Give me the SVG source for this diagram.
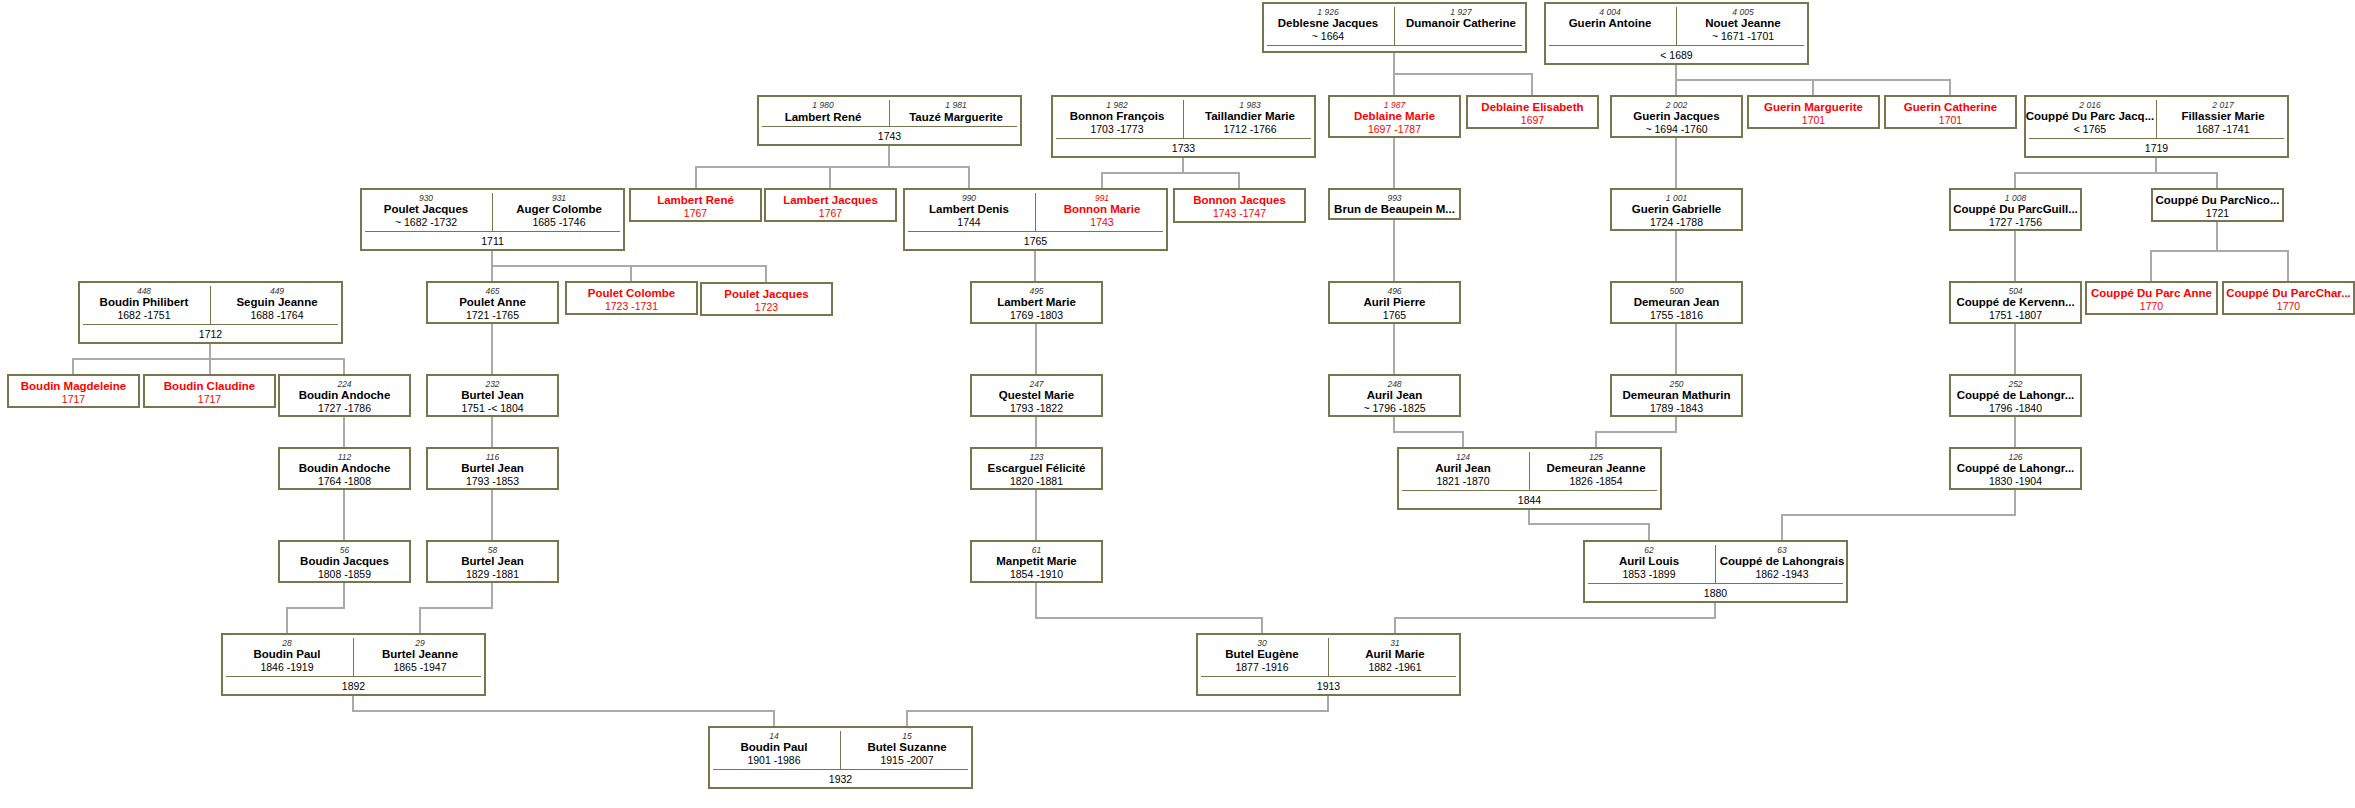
<svg xmlns="http://www.w3.org/2000/svg" width="2355" height="808" viewBox="0 0 2355 808">
<style>
.b{fill:#fff;stroke:#77774f;stroke-width:2}
.i{stroke:#77774f;stroke-width:1}
.c{fill:none;stroke:#aaaaaa;stroke-width:2;stroke-linejoin:miter}
text{font-family:"Liberation Sans",Arial,sans-serif;text-anchor:middle;fill:#000}
.n{font-size:8.5px;font-style:italic;fill:#333}
.m{font-size:11.5px;font-weight:bold}
.d{font-size:10.5px}
.r{fill:#ff0000}
</style>
<rect width="2355" height="808" fill="#fff"/>
<g id="connectors">
<path class="c" d="M73 374V359H344V374M210 343V374"/>
<path class="c" d="M344 417V447M344 490V540"/>
<path class="c" d="M344 583V608H287V633"/>
<path class="c" d="M492 324V374M492 417V447M492 490V540"/>
<path class="c" d="M492 583V608H420V633"/>
<path class="c" d="M492 251V281M492 266H766V282M631 266V281"/>
<path class="c" d="M889 146V167M696 188V167H969V188M830 167V188"/>
<path class="c" d="M1183 158V173M1102 188V173H1239V188"/>
<path class="c" d="M1035 251V281M1036 324V374M1036 417V447M1036 490V540"/>
<path class="c" d="M1036 583V618H1262V633"/>
<path class="c" d="M1394 53V95M1394 74H1532V95"/>
<path class="c" d="M1394 138V188M1394 220V281M1394 324V374"/>
<path class="c" d="M1394 417V432H1463V447"/>
<path class="c" d="M1676 65V95M1676 80H1950V95M1813 80V95"/>
<path class="c" d="M1676 138V188M1676 231V281M1676 324V374"/>
<path class="c" d="M1676 417V432H1596V447"/>
<path class="c" d="M1529 510V524H1649V540"/>
<path class="c" d="M1715 603V618H1395V633"/>
<path class="c" d="M2156 158V173M2015 188V173H2217V188"/>
<path class="c" d="M2217 222V251M2151 281V251H2288V281"/>
<path class="c" d="M2015 231V281M2015 324V374M2015 417V447"/>
<path class="c" d="M2015 490V515H1782V540"/>
<path class="c" d="M353 696V711H774V726"/>
<path class="c" d="M1328 696V711H907V726"/>
</g>

<!-- Row 0 -->
<g id="n1926">
<rect class="b" x="1263" y="3" width="263" height="49"/>
<line class="i" x1="1394.5" y1="7" x2="1394.5" y2="45"/>
<line class="i" x1="1267" y1="45.5" x2="1522" y2="45.5"/>
<text class="n" x="1328" y="14.5">1 926</text>
<text class="m" x="1328" y="27">Deblesne Jacques</text>
<text class="d" x="1328" y="39.5">~ 1664</text>
<text class="n" x="1461" y="14.5">1 927</text>
<text class="m" x="1461" y="27">Dumanoir Catherine</text>
</g>
<g id="n4004">
<rect class="b" x="1545" y="3" width="263" height="61"/>
<line class="i" x1="1676.5" y1="7" x2="1676.5" y2="45"/>
<line class="i" x1="1549" y1="45.5" x2="1804" y2="45.5"/>
<text class="n" x="1610" y="14.5">4 004</text>
<text class="m" x="1610" y="27">Guerin Antoine</text>
<text class="n" x="1743" y="14.5">4 005</text>
<text class="m" x="1743" y="27">Nouet Jeanne</text>
<text class="d" x="1743" y="39.5">~ 1671 -1701</text>
<text class="d" x="1676.5" y="58.5">&lt; 1689</text>
</g>

<!-- Row 1 -->
<g id="n1980">
<rect class="b" x="758" y="96" width="263" height="49"/>
<line class="i" x1="889.5" y1="100" x2="889.5" y2="126"/>
<line class="i" x1="762" y1="126.5" x2="1017" y2="126.5"/>
<text class="n" x="823" y="108">1 980</text>
<text class="m" x="823" y="120.5">Lambert René</text>
<text class="n" x="956" y="108">1 981</text>
<text class="m" x="956" y="120.5">Tauzé Marguerite</text>
<text class="d" x="889.5" y="139.5">1743</text>
</g>
<g id="n1982">
<rect class="b" x="1052" y="96" width="263" height="61"/>
<line class="i" x1="1183.5" y1="100" x2="1183.5" y2="138"/>
<line class="i" x1="1056" y1="138.5" x2="1311" y2="138.5"/>
<text class="n" x="1117" y="107.5">1 982</text>
<text class="m" x="1117" y="120">Bonnon François</text>
<text class="d" x="1117" y="132.5">1703 -1773</text>
<text class="n" x="1250" y="107.5">1 983</text>
<text class="m" x="1250" y="120">Taillandier Marie</text>
<text class="d" x="1250" y="132.5">1712 -1766</text>
<text class="d" x="1183.5" y="151.5">1733</text>
</g>
<g id="n1987">
<rect class="b" x="1329" y="96" width="131" height="41"/>
<text class="n r" x="1394.5" y="107.5">1 987</text>
<text class="m r" x="1394.5" y="120">Deblaine Marie</text>
<text class="d r" x="1394.5" y="132.5">1697 -1787</text>
</g>
<g id="nDeblaineElisabeth">
<rect class="b" x="1467" y="96" width="131" height="32"/>
<text class="m r" x="1532.5" y="111">Deblaine Elisabeth</text>
<text class="d r" x="1532.5" y="123.5">1697</text>
</g>
<g id="n2002">
<rect class="b" x="1611" y="96" width="131" height="41"/>
<text class="n" x="1676.5" y="107.5">2 002</text>
<text class="m" x="1676.5" y="120">Guerin Jacques</text>
<text class="d" x="1676.5" y="132.5">~ 1694 -1760</text>
</g>
<g id="nGuerinMarguerite">
<rect class="b" x="1748" y="96" width="131" height="32"/>
<text class="m r" x="1813.5" y="111">Guerin Marguerite</text>
<text class="d r" x="1813.5" y="123.5">1701</text>
</g>
<g id="nGuerinCatherine">
<rect class="b" x="1885" y="96" width="131" height="32"/>
<text class="m r" x="1950.5" y="111">Guerin Catherine</text>
<text class="d r" x="1950.5" y="123.5">1701</text>
</g>
<g id="n2016">
<rect class="b" x="2025" y="96" width="263" height="61"/>
<line class="i" x1="2156.5" y1="100" x2="2156.5" y2="138"/>
<line class="i" x1="2029" y1="138.5" x2="2284" y2="138.5"/>
<text class="n" x="2090" y="107.5">2 016</text>
<text class="m" x="2090" y="120">Couppé Du Parc Jacq...</text>
<text class="d" x="2090" y="132.5">&lt; 1765</text>
<text class="n" x="2223" y="107.5">2 017</text>
<text class="m" x="2223" y="120">Fillassier Marie</text>
<text class="d" x="2223" y="132.5">1687 -1741</text>
<text class="d" x="2156.5" y="151.5">1719</text>
</g>

<!-- Row 2 -->
<g id="n930">
<rect class="b" x="361" y="189" width="263" height="61"/>
<line class="i" x1="492.5" y1="193" x2="492.5" y2="231"/>
<line class="i" x1="365" y1="231.5" x2="620" y2="231.5"/>
<text class="n" x="426" y="200.5">930</text>
<text class="m" x="426" y="213">Poulet Jacques</text>
<text class="d" x="426" y="225.5">~ 1682 -1732</text>
<text class="n" x="559" y="200.5">931</text>
<text class="m" x="559" y="213">Auger Colombe</text>
<text class="d" x="559" y="225.5">1685 -1746</text>
<text class="d" x="492.5" y="244.5">1711</text>
</g>
<g id="nLambertRene">
<rect class="b" x="630" y="189" width="131" height="32"/>
<text class="m r" x="695.5" y="204">Lambert René</text>
<text class="d r" x="695.5" y="216.5">1767</text>
</g>
<g id="nLambertJacques">
<rect class="b" x="765" y="189" width="131" height="32"/>
<text class="m r" x="830.5" y="204">Lambert Jacques</text>
<text class="d r" x="830.5" y="216.5">1767</text>
</g>
<g id="n990">
<rect class="b" x="904" y="189" width="263" height="61"/>
<line class="i" x1="1035.5" y1="193" x2="1035.5" y2="231"/>
<line class="i" x1="908" y1="231.5" x2="1163" y2="231.5"/>
<text class="n" x="969" y="200.5">990</text>
<text class="m" x="969" y="213">Lambert Denis</text>
<text class="d" x="969" y="225.5">1744</text>
<text class="n r" x="1102" y="200.5">991</text>
<text class="m r" x="1102" y="213">Bonnon Marie</text>
<text class="d r" x="1102" y="225.5">1743</text>
<text class="d" x="1035.5" y="244.5">1765</text>
</g>
<g id="nBonnonJacques">
<rect class="b" x="1174" y="189" width="131" height="33"/>
<text class="m r" x="1239.5" y="204">Bonnon Jacques</text>
<text class="d r" x="1239.5" y="216.5">1743 -1747</text>
</g>
<g id="n993">
<rect class="b" x="1329" y="189" width="131" height="30"/>
<text class="n" x="1394.5" y="200.5">993</text>
<text class="m" x="1394.5" y="213">Brun de Beaupein M...</text>
</g>
<g id="n1001">
<rect class="b" x="1611" y="189" width="131" height="41"/>
<text class="n" x="1676.5" y="200.5">1 001</text>
<text class="m" x="1676.5" y="213">Guerin Gabrielle</text>
<text class="d" x="1676.5" y="225.5">1724 -1788</text>
</g>
<g id="n1008">
<rect class="b" x="1950" y="189" width="131" height="41"/>
<text class="n" x="2015.5" y="200.5">1 008</text>
<text class="m" x="2015.5" y="213">Couppé Du ParcGuill...</text>
<text class="d" x="2015.5" y="225.5">1727 -1756</text>
</g>
<g id="nCouppeNico">
<rect class="b" x="2152" y="189" width="131" height="32"/>
<text class="m" x="2217.5" y="204">Couppé Du ParcNico...</text>
<text class="d" x="2217.5" y="216.5">1721</text>
</g>

<!-- Row 3 -->
<g id="n448">
<rect class="b" x="79" y="282" width="263" height="61"/>
<line class="i" x1="210.5" y1="286" x2="210.5" y2="324"/>
<line class="i" x1="83" y1="324.5" x2="338" y2="324.5"/>
<text class="n" x="144" y="293.5">448</text>
<text class="m" x="144" y="306">Boudin Philibert</text>
<text class="d" x="144" y="318.5">1682 -1751</text>
<text class="n" x="277" y="293.5">449</text>
<text class="m" x="277" y="306">Seguin Jeanne</text>
<text class="d" x="277" y="318.5">1688 -1764</text>
<text class="d" x="210.5" y="337.5">1712</text>
</g>
<g id="n465">
<rect class="b" x="427" y="282" width="131" height="41"/>
<text class="n" x="492.5" y="293.5">465</text>
<text class="m" x="492.5" y="306">Poulet Anne</text>
<text class="d" x="492.5" y="318.5">1721 -1765</text>
</g>
<g id="nPouletColombe">
<rect class="b" x="566" y="282" width="131" height="32"/>
<text class="m r" x="631.5" y="297">Poulet Colombe</text>
<text class="d r" x="631.5" y="309.5">1723 -1731</text>
</g>
<g id="nPouletJacques">
<rect class="b" x="701" y="283" width="131" height="32"/>
<text class="m r" x="766.5" y="298">Poulet Jacques</text>
<text class="d r" x="766.5" y="310.5">1723</text>
</g>
<g id="n495">
<rect class="b" x="971" y="282" width="131" height="41"/>
<text class="n" x="1036.5" y="293.5">495</text>
<text class="m" x="1036.5" y="306">Lambert Marie</text>
<text class="d" x="1036.5" y="318.5">1769 -1803</text>
</g>
<g id="n496">
<rect class="b" x="1329" y="282" width="131" height="41"/>
<text class="n" x="1394.5" y="293.5">496</text>
<text class="m" x="1394.5" y="306">Auril Pierre</text>
<text class="d" x="1394.5" y="318.5">1765</text>
</g>
<g id="n500">
<rect class="b" x="1611" y="282" width="131" height="41"/>
<text class="n" x="1676.5" y="293.5">500</text>
<text class="m" x="1676.5" y="306">Demeuran Jean</text>
<text class="d" x="1676.5" y="318.5">1755 -1816</text>
</g>
<g id="n504">
<rect class="b" x="1950" y="282" width="131" height="41"/>
<text class="n" x="2015.5" y="293.5">504</text>
<text class="m" x="2015.5" y="306">Couppé de Kervenn...</text>
<text class="d" x="2015.5" y="318.5">1751 -1807</text>
</g>
<g id="nCouppeAnne">
<rect class="b" x="2086" y="282" width="131" height="32"/>
<text class="m r" x="2151.5" y="297">Couppé Du Parc Anne</text>
<text class="d r" x="2151.5" y="309.5">1770</text>
</g>
<g id="nCouppeChar">
<rect class="b" x="2223" y="282" width="131" height="32"/>
<text class="m r" x="2288.5" y="297">Couppé Du ParcChar...</text>
<text class="d r" x="2288.5" y="309.5">1770</text>
</g>

<!-- Row 4 -->
<g id="nBoudinMagdeleine">
<rect class="b" x="8" y="375" width="131" height="32"/>
<text class="m r" x="73.5" y="390">Boudin Magdeleine</text>
<text class="d r" x="73.5" y="402.5">1717</text>
</g>
<g id="nBoudinClaudine">
<rect class="b" x="144" y="375" width="131" height="32"/>
<text class="m r" x="209.5" y="390">Boudin Claudine</text>
<text class="d r" x="209.5" y="402.5">1717</text>
</g>
<g id="n224">
<rect class="b" x="279" y="375" width="131" height="41"/>
<text class="n" x="344.5" y="386.5">224</text>
<text class="m" x="344.5" y="399">Boudin Andoche</text>
<text class="d" x="344.5" y="411.5">1727 -1786</text>
</g>
<g id="n232">
<rect class="b" x="427" y="375" width="131" height="41"/>
<text class="n" x="492.5" y="386.5">232</text>
<text class="m" x="492.5" y="399">Burtel Jean</text>
<text class="d" x="492.5" y="411.5">1751 -&lt; 1804</text>
</g>
<g id="n247">
<rect class="b" x="971" y="375" width="131" height="41"/>
<text class="n" x="1036.5" y="386.5">247</text>
<text class="m" x="1036.5" y="399">Questel Marie</text>
<text class="d" x="1036.5" y="411.5">1793 -1822</text>
</g>
<g id="n248">
<rect class="b" x="1329" y="375" width="131" height="41"/>
<text class="n" x="1394.5" y="386.5">248</text>
<text class="m" x="1394.5" y="399">Auril Jean</text>
<text class="d" x="1394.5" y="411.5">~ 1796 -1825</text>
</g>
<g id="n250">
<rect class="b" x="1611" y="375" width="131" height="41"/>
<text class="n" x="1676.5" y="386.5">250</text>
<text class="m" x="1676.5" y="399">Demeuran Mathurin</text>
<text class="d" x="1676.5" y="411.5">1789 -1843</text>
</g>
<g id="n252">
<rect class="b" x="1950" y="375" width="131" height="41"/>
<text class="n" x="2015.5" y="386.5">252</text>
<text class="m" x="2015.5" y="399">Couppé de Lahongr...</text>
<text class="d" x="2015.5" y="411.5">1796 -1840</text>
</g>

<!-- Row 5 -->
<g id="n112">
<rect class="b" x="279" y="448" width="131" height="41"/>
<text class="n" x="344.5" y="459.5">112</text>
<text class="m" x="344.5" y="472">Boudin Andoche</text>
<text class="d" x="344.5" y="484.5">1764 -1808</text>
</g>
<g id="n116">
<rect class="b" x="427" y="448" width="131" height="41"/>
<text class="n" x="492.5" y="459.5">116</text>
<text class="m" x="492.5" y="472">Burtel Jean</text>
<text class="d" x="492.5" y="484.5">1793 -1853</text>
</g>
<g id="n123">
<rect class="b" x="971" y="448" width="131" height="41"/>
<text class="n" x="1036.5" y="459.5">123</text>
<text class="m" x="1036.5" y="472">Escarguel Félicité</text>
<text class="d" x="1036.5" y="484.5">1820 -1881</text>
</g>
<g id="n124">
<rect class="b" x="1398" y="448" width="263" height="61"/>
<line class="i" x1="1529.5" y1="452" x2="1529.5" y2="490"/>
<line class="i" x1="1402" y1="490.5" x2="1657" y2="490.5"/>
<text class="n" x="1463" y="459.5">124</text>
<text class="m" x="1463" y="472">Auril Jean</text>
<text class="d" x="1463" y="484.5">1821 -1870</text>
<text class="n" x="1596" y="459.5">125</text>
<text class="m" x="1596" y="472">Demeuran Jeanne</text>
<text class="d" x="1596" y="484.5">1826 -1854</text>
<text class="d" x="1529.5" y="503.5">1844</text>
</g>
<g id="n126">
<rect class="b" x="1950" y="448" width="131" height="41"/>
<text class="n" x="2015.5" y="459.5">126</text>
<text class="m" x="2015.5" y="472">Couppé de Lahongr...</text>
<text class="d" x="2015.5" y="484.5">1830 -1904</text>
</g>

<!-- Row 6 -->
<g id="n56">
<rect class="b" x="279" y="541" width="131" height="41"/>
<text class="n" x="344.5" y="552.5">56</text>
<text class="m" x="344.5" y="565">Boudin Jacques</text>
<text class="d" x="344.5" y="577.5">1808 -1859</text>
</g>
<g id="n58">
<rect class="b" x="427" y="541" width="131" height="41"/>
<text class="n" x="492.5" y="552.5">58</text>
<text class="m" x="492.5" y="565">Burtel Jean</text>
<text class="d" x="492.5" y="577.5">1829 -1881</text>
</g>
<g id="n61">
<rect class="b" x="971" y="541" width="131" height="41"/>
<text class="n" x="1036.5" y="552.5">61</text>
<text class="m" x="1036.5" y="565">Manpetit Marie</text>
<text class="d" x="1036.5" y="577.5">1854 -1910</text>
</g>
<g id="n62">
<rect class="b" x="1584" y="541" width="263" height="61"/>
<line class="i" x1="1715.5" y1="545" x2="1715.5" y2="583"/>
<line class="i" x1="1588" y1="583.5" x2="1843" y2="583.5"/>
<text class="n" x="1649" y="552.5">62</text>
<text class="m" x="1649" y="565">Auril Louis</text>
<text class="d" x="1649" y="577.5">1853 -1899</text>
<text class="n" x="1782" y="552.5">63</text>
<text class="m" x="1782" y="565">Couppé de Lahongrais</text>
<text class="d" x="1782" y="577.5">1862 -1943</text>
<text class="d" x="1715.5" y="596.5">1880</text>
</g>

<!-- Row 7 -->
<g id="n28">
<rect class="b" x="222" y="634" width="263" height="61"/>
<line class="i" x1="353.5" y1="638" x2="353.5" y2="676"/>
<line class="i" x1="226" y1="676.5" x2="481" y2="676.5"/>
<text class="n" x="287" y="645.5">28</text>
<text class="m" x="287" y="658">Boudin Paul</text>
<text class="d" x="287" y="670.5">1846 -1919</text>
<text class="n" x="420" y="645.5">29</text>
<text class="m" x="420" y="658">Burtel Jeanne</text>
<text class="d" x="420" y="670.5">1865 -1947</text>
<text class="d" x="353.5" y="689.5">1892</text>
</g>
<g id="n30">
<rect class="b" x="1197" y="634" width="263" height="61"/>
<line class="i" x1="1328.5" y1="638" x2="1328.5" y2="676"/>
<line class="i" x1="1201" y1="676.5" x2="1456" y2="676.5"/>
<text class="n" x="1262" y="645.5">30</text>
<text class="m" x="1262" y="658">Butel Eugène</text>
<text class="d" x="1262" y="670.5">1877 -1916</text>
<text class="n" x="1395" y="645.5">31</text>
<text class="m" x="1395" y="658">Auril Marie</text>
<text class="d" x="1395" y="670.5">1882 -1961</text>
<text class="d" x="1328.5" y="689.5">1913</text>
</g>

<!-- Row 8 -->
<g id="n14">
<rect class="b" x="709" y="727" width="263" height="61"/>
<line class="i" x1="840.5" y1="731" x2="840.5" y2="769"/>
<line class="i" x1="713" y1="769.5" x2="968" y2="769.5"/>
<text class="n" x="774" y="738.5">14</text>
<text class="m" x="774" y="751">Boudin Paul</text>
<text class="d" x="774" y="763.5">1901 -1986</text>
<text class="n" x="907" y="738.5">15</text>
<text class="m" x="907" y="751">Butel Suzanne</text>
<text class="d" x="907" y="763.5">1915 -2007</text>
<text class="d" x="840.5" y="782.5">1932</text>
</g>
</svg>
